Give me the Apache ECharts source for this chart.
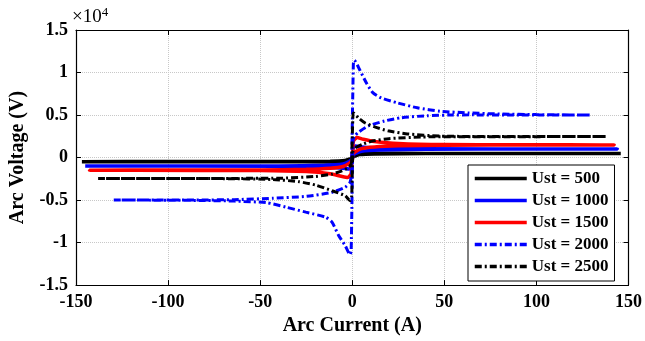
<!DOCTYPE html>
<html>
<head>
<meta charset="utf-8">
<script src="https://cdn.jsdelivr.net/npm/echarts@6/dist/echarts.min.js"></script>
<style>
  html, body { margin: 0; padding: 0; background: #fff; }
  #chart { width: 645px; height: 341px; }
</style>
</head>
<body>
<div id="chart"></div>
<script>
// arc current (A) vs arc voltage (V), one closed loop per Ust
const xTicks = [-150, -100, -50, 0, 50, 100, 150];
const yTicks = [-15000, -10000, -5000, 0, 5000, 10000, 15000];
const seriesNames = ['Ust = 500', 'Ust = 1000', 'Ust = 1500', 'Ust = 2000', 'Ust = 2500'];

const ust500 = [
  [0.1, -100], [0.4, 500], [1.5, 620], [4, 560], [12, 510], [40, 490], [145.8, 480],
  [100, 475], [40, 470], [12, 430], [4, 350], [1.2, 150],
  [-0.1, 100], [-0.4, -500], [-1.5, -620], [-4, -560], [-12, -510], [-40, -490], [-146.8, -485],
  [-100, -475], [-40, -470], [-12, -430], [-4, -350], [-1.2, -150], [0.1, -100]
];
const ust1000 = [
  [0.1, -200], [0.5, 1100], [1.8, 1350], [5, 1250], [15, 1100], [40, 1030], [144, 1000],
  [100, 995], [40, 980], [15, 900], [5, 750], [1.5, 450],
  [-0.1, 200], [-0.5, -1100], [-1.8, -1350], [-5, -1250], [-15, -1100], [-40, -1030], [-145, -990],
  [-100, -995], [-40, -980], [-15, -900], [-5, -750], [-1.5, -450], [0.1, -200]
];
const ust1500 = [
  [0.1, -300], [0.6, 1900], [2.5, 2350], [6, 2150], [12, 1900], [25, 1650], [50, 1530], [142.3, 1480],
  [100, 1475], [50, 1460], [25, 1380], [12, 1250], [5, 1050], [1.5, 650],
  [-0.1, 300], [-0.6, -1900], [-2.5, -2350], [-6, -2200], [-12, -1900], [-25, -1650], [-50, -1530], [-142.7, -1480],
  [-100, -1475], [-50, -1460], [-25, -1380], [-12, -1250], [-5, -1050], [-1.5, -650], [0.1, -300]
];
const ust2000 = [
  [-0.4, -2000], [0.6, 11000], [1.1, 11450], [4.1, 10300], [7.7, 8760], [11.3, 7600], [15.8, 7000],
  [24.7, 6420], [35.3, 5850], [47.8, 5450], [63, 5250], [80, 5120], [100, 5050], [129.5, 5000],
  [110, 5000], [85, 5000], [65, 5020], [53, 5000], [40.7, 4920], [26.4, 4680], [17.5, 4300],
  [8.6, 3700], [3.5, 3000], [1.2, 2500], [0.4, 2000],
  [-0.6, -11000], [-1.2, -11410], [-3.9, -10330], [-7.4, -9160], [-11, -7590], [-14.5, -7010],
  [-25.2, -6420], [-35.9, -5840], [-46.6, -5300], [-64, -5120], [-80, -5050], [-100, -5020], [-129.5, -4980],
  [-110, -4990], [-85, -4990], [-64, -4950], [-43, -4790], [-25, -4560], [-11, -4090],
  [-3.9, -3500], [-1.2, -2920], [-0.4, -2000]
];
const ust2500 = [
  [-0.4, -700], [0.3, 4500], [0.6, 5250], [3.3, 4670], [6.8, 4090], [12.2, 3600], [19.3, 3150],
  [30, 2780], [47.8, 2520], [70, 2480], [100, 2470], [138, 2470],
  [100, 2460], [60, 2450], [37.7, 2420], [19.9, 2220], [11, 1950], [5.6, 1560], [2, 1170], [0.4, 700],
  [-0.3, -4500], [-1.2, -5070], [-3.9, -4480], [-11, -3900], [-19.9, -3240], [-28.7, -2850],
  [-43, -2580], [-70, -2480], [-100, -2470], [-138, -2470],
  [-100, -2460], [-60, -2450], [-37.7, -2420], [-19.9, -2220], [-11, -1950], [-5.6, -1560],
  [-2, -1170], [-0.4, -700]
];

const font = '"Liberation Serif", "Times New Roman", serif';
const dashDot = [7, 3, 2, 3];

const chart = echarts.init(document.getElementById('chart'), null, { renderer: 'canvas' });

const tickStyle = { inside: true, length: 5, lineStyle: { color: '#000', width: 1 } };
const axisLine = { show: true, onZero: false, lineStyle: { color: '#000', width: 1.2 } };

const option = {
  backgroundColor: '#fff',
  animation: false,
  grid: { left: 70, right: 14, top: 30, bottom: 54 },
  graphic: [{
    type: 'text',
    left: 72,
    top: 6,
    style: {
      text: '{a|×10}{b|4}',
      rich: {
        a: { fontFamily: font, fontSize: 19, fill: '#000', verticalAlign: 'bottom' },
        b: { fontFamily: font, fontSize: 13, fill: '#000', verticalAlign: 'top', padding: [0, 0, 8, 0] }
      }
    }
  }],
  legend: {
    orient: 'vertical',
    left: 468,
    top: 165,
    data: seriesNames,
    itemWidth: 52,
    itemHeight: 16,
    itemGap: 5,
    padding: [5, 6, 6, 5],
    borderColor: '#000',
    borderWidth: 1,
    backgroundColor: '#fff',
    itemStyle: { opacity: 0 },
    lineStyle: { width: 3.5 },
    textStyle: { fontFamily: font, fontWeight: 'bold', fontSize: 17, color: '#000' }
  },
  xAxis: [{
    type: 'value',
    min: -150, max: 150, interval: 50,
    name: 'Arc Current (A)',
    nameLocation: 'middle',
    nameGap: 28,
    nameTextStyle: { fontFamily: font, fontWeight: 'bold', fontSize: 20, color: '#000' },
    axisLine: axisLine,
    axisTick: tickStyle,
    axisLabel: { fontFamily: font, fontWeight: 'bold', fontSize: 18, color: '#000', margin: 8 },
    splitLine: { show: true, lineStyle: { color: '#c8c8c8', type: 'dotted', width: 1 } }
  }, {
    type: 'value', position: 'top',
    min: -150, max: 150, interval: 50,
    axisLine: axisLine, axisTick: tickStyle,
    axisLabel: { show: false }, splitLine: { show: false }
  }],
  yAxis: [{
    type: 'value',
    min: -15000, max: 15000, interval: 5000,
    name: 'Arc Voltage (V)',
    nameLocation: 'middle',
    nameGap: 48,
    nameTextStyle: { fontFamily: font, fontWeight: 'bold', fontSize: 20, color: '#000' },
    axisLine: axisLine,
    axisTick: tickStyle,
    axisLabel: {
      fontFamily: font, fontWeight: 'bold', fontSize: 18, color: '#000', margin: 8,
      formatter: v => String(v / 10000)
    },
    splitLine: { show: true, lineStyle: { color: '#c8c8c8', type: 'dotted', width: 1 } }
  }, {
    type: 'value', position: 'right',
    min: -15000, max: 15000, interval: 5000,
    axisLine: axisLine, axisTick: tickStyle,
    axisLabel: { show: false }, splitLine: { show: false }
  }],
  series: [
    { name: seriesNames[0], data: ust500, color: '#000', lineStyle: { width: 3.5, type: 'solid' } },
    { name: seriesNames[1], data: ust1000, color: '#0000ff', lineStyle: { width: 3.5, type: 'solid' } },
    { name: seriesNames[2], data: ust1500, color: '#ff0000', lineStyle: { width: 3.5, type: 'solid' } },
    { name: seriesNames[3], data: ust2000, color: '#0000ff', lineStyle: { width: 3, type: dashDot } },
    { name: seriesNames[4], data: ust2500, color: '#000', lineStyle: { width: 3, type: dashDot } }
  ].map(s => Object.assign({
    type: 'line',
    xAxisIndex: 0,
    yAxisIndex: 0,
    showSymbol: false,
    symbol: 'none',
    smooth: 0.2,
    clip: true
  }, s))
};

chart.setOption(option);
</script>
</body>
</html>
